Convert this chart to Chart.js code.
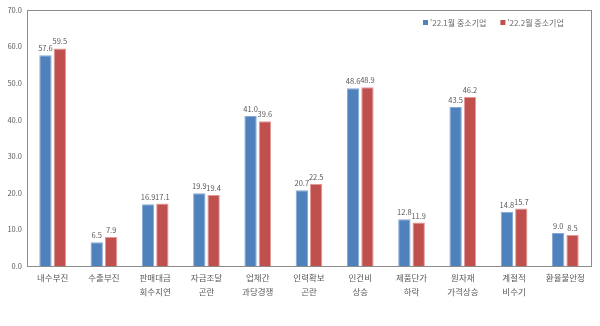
<!DOCTYPE html>
<html lang="ko">
  <head>
    <meta charset="UTF-8">
    <title>중소기업 경영애로</title>
    <script src="https://cdn.jsdelivr.net/npm/chart.js"></script>
    <style>
      body { margin: 0; background: #fff; }
      #wrap { width: 600px; height: 326px; }
    </style>
  </head>
  <body>
    <div id="wrap"><canvas id="chart"></canvas></div>
    <script>
      // 항목 (두 줄 라벨)
      const categories = [
        ['내수부진'], ['수출부진'], ['판매대금', '회수지연'], ['자금조달', '곤란'],
        ['업체간', '과당경쟁'], ['인력확보', '곤란'], ['인건비', '상승'], ['제품단가', '하락'],
        ['원자재', '가격상승'], ['계절적', '비수기'], ['환율불안정']
      ];
      const seriesNames = ["'22.1월 중소기업", "'22.2월 중소기업"];
      const jan = [57.6, 6.5, 16.9, 19.9, 41.0, 20.7, 48.6, 12.8, 43.5, 14.8, 9.0];
      const feb = [59.5, 7.9, 17.1, 19.4, 39.6, 22.5, 48.9, 11.9, 46.2, 15.7, 8.5];
      const yTicks = [0, 10, 20, 30, 40, 50, 60, 70];

      const FONT = "'Noto Sans CJK KR', 'Noto Sans', sans-serif";
      Chart.defaults.font.family = FONT;
      Chart.defaults.color = '#595959';

      // 플롯 테두리
      const frame = {
        id: 'frame',
        afterDraw(chart) {
          const { ctx, chartArea: a } = chart;
          ctx.save();
          ctx.strokeStyle = '#8c8c8c';
          ctx.lineWidth = 1;
          ctx.strokeRect(Math.round(a.left) + 0.5, Math.round(a.top) + 0.5,
            Math.round(a.right - a.left), Math.round(a.bottom - a.top));
          ctx.restore();
        }
      };

      // 막대 위 값 표시
      const valueLabels = {
        id: 'valueLabels',
        afterDatasetsDraw(chart) {
          const ctx = chart.ctx;
          ctx.save();
          ctx.font = '7.5px ' + FONT;
          ctx.fillStyle = '#595959';
          ctx.textAlign = 'center';
          ctx.textBaseline = 'bottom';
          chart.data.datasets.forEach((ds, i) => {
            chart.getDatasetMeta(i).data.forEach((bar, j) => {
              ctx.fillText(ds.data[j].toFixed(1), bar.x, bar.y - 3);
            });
          });
          ctx.restore();
        }
      };

      // 범례 (플롯 안 오른쪽 위)
      const innerLegend = {
        id: 'innerLegend',
        afterDraw(chart) {
          const ctx = chart.ctx;
          const a = chart.chartArea;
          ctx.save();
          ctx.font = '8px ' + FONT;
          ctx.textBaseline = 'middle';
          let x = a.right - 168;
          const y = a.top + 13;
          chart.data.datasets.forEach(ds => {
            ctx.fillStyle = ds.backgroundColor;
            ctx.fillRect(x, y - 3, 5, 5);
            ctx.fillStyle = '#6a6a6a';
            ctx.fillText(ds.label, x + 7, y);
            x += ctx.measureText(ds.label).width + 7 + 14;
          });
          ctx.restore();
        }
      };

      new Chart(document.getElementById('chart'), {
        type: 'bar',
        data: {
          labels: categories,
          datasets: [
            { label: seriesNames[0], data: jan, backgroundColor: '#4f81bd', borderColor: '#86a9d6', borderWidth: 1 },
            { label: seriesNames[1], data: feb, backgroundColor: '#c0504d', borderColor: '#e39a98', borderWidth: 1 }
          ]
        },
        options: {
          responsive: true,
          maintainAspectRatio: false,
          animation: false,
          datasets: { bar: { categoryPercentage: 0.56, barPercentage: 0.86 } },
          layout: { padding: { top: 10, right: 9, left: 0, bottom: 0 } },
          plugins: { legend: { display: false }, tooltip: { enabled: false } },
          scales: {
            x: {
              grid: { display: false, drawTicks: false },
              border: { display: true, color: '#7f7f7f' },
              ticks: { font: { size: 8.5, lineHeight: 1.65 }, padding: 5, maxRotation: 0, autoSkip: false },
              afterFit(scale) { scale.height = 60; }
            },
            y: {
              min: 0,
              max: 70,
              afterBuildTicks(scale) { scale.ticks = yTicks.map(v => ({ value: v })); },
              grid: { display: false, drawTicks: false },
              border: { display: true, color: '#8c8c8c' },
              ticks: { font: { size: 7.5 }, padding: 5, callback: v => v.toFixed(1) },
              afterFit(scale) { scale.width = 27; }
            }
          }
        },
        plugins: [frame, valueLabels, innerLegend]
      });
    </script>
  </body>
</html>
